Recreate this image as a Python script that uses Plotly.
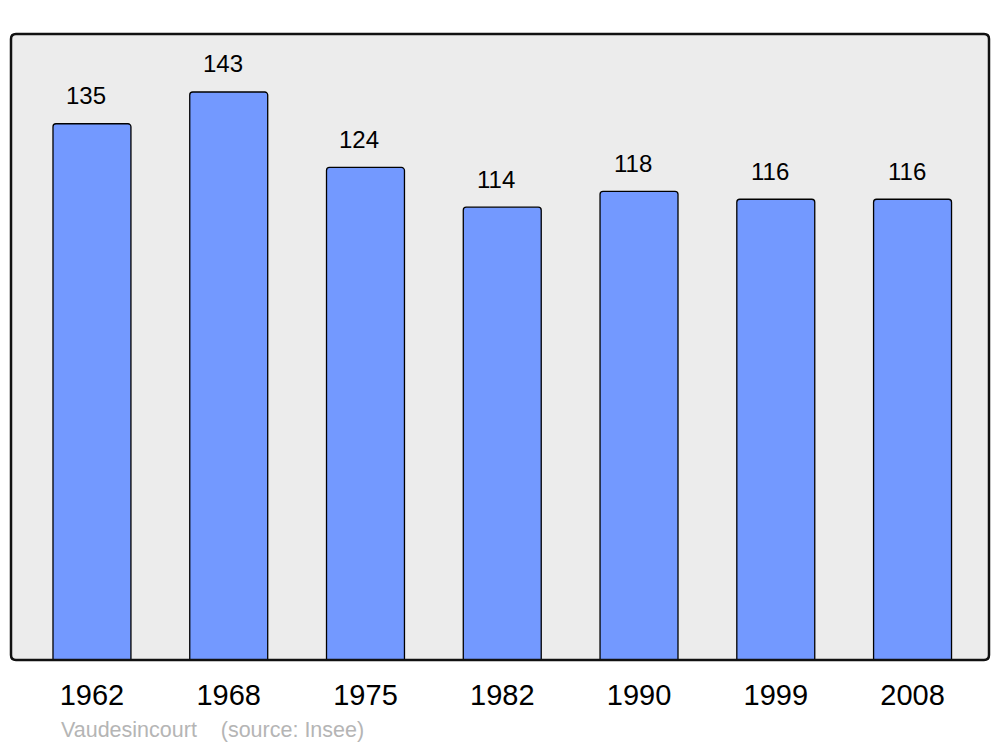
import plotly.graph_objects as go

years = ["1962", "1968", "1975", "1982", "1990", "1999", "2008"]
population = [135, 143, 124, 114, 118, 116, 116]
commune = "Vaudesincourt"
source_note = "(source: Insee)"

BAR_COLOR = "#7399ff"
FONT = "Liberation Sans, Arial, sans-serif"

fig = go.Figure()

fig.add_trace(
    go.Bar(
        x=years,
        y=population,
        width=0.57,
        marker=dict(color=BAR_COLOR, line=dict(color="black", width=1.3), cornerradius=3),
        hoverinfo="x+y",
    )
)

# value labels above each bar (category axis -> use serial index)
for i, value in enumerate(population):
    fig.add_annotation(
        x=i,
        y=value,
        text=str(value),
        showarrow=False,
        yanchor="middle",
        yshift=28,
        xshift=-6,
        font=dict(size=24, color="black", family=FONT),
    )

fig.add_annotation(
    text=commune + "&nbsp;&nbsp;&nbsp;&nbsp;" + source_note,
    xref="paper",
    yref="paper",
    x=0.049,
    y=-0.112,
    xanchor="left",
    yanchor="middle",
    showarrow=False,
    font=dict(size=21.5, color="#b5b5b5", family=FONT),
)

# rounded frame around the plot area
rx, ry = 5 / 978, 5 / 626
frame = (
    f"M {rx},0 L {1 - rx},0 Q 1,0 1,{ry} L 1,{1 - ry} Q 1,1 {1 - rx},1 "
    f"L {rx},1 Q 0,1 0,{1 - ry} L 0,{ry} Q 0,0 {rx},0 Z"
)
fig.add_shape(
    type="path",
    path=frame,
    xref="paper",
    yref="paper",
    line=dict(color="#111111", width=2.5),
    layer="above",
)

fig.update_layout(
    width=1000,
    height=747,
    paper_bgcolor="white",
    plot_bgcolor="#ececec",
    margin=dict(l=11, r=11, t=34, b=87),
    showlegend=False,
    font=dict(family=FONT, color="black"),
    xaxis=dict(
        type="category",
        range=[-0.592, 6.559],
        showgrid=False,
        zeroline=False,
        showline=False,
        ticks="outside",
        ticklen=9,
        tickcolor="rgba(0,0,0,0)",
        tickfont=dict(size=29, color="black", family=FONT),
    ),
    yaxis=dict(
        range=[0, 157.6],
        showgrid=False,
        zeroline=False,
        showline=False,
        showticklabels=False,
    ),
)

fig.write_html(
    "out.html",
    config={"displayModeBar": False},
    post_script="document.body.style.margin='0';",
)
